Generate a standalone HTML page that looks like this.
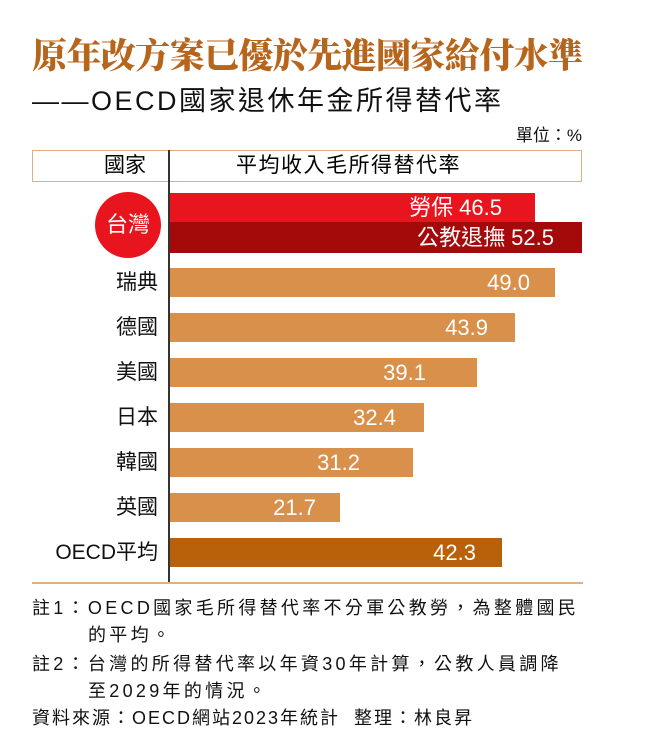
<!DOCTYPE html><html><head><meta charset="utf-8"><style>
body{margin:0;width:656px;height:755px;background:#fff;position:relative;font-family:"Liberation Sans","Noto Sans CJK TC",sans-serif;overflow:hidden}
.a{position:absolute;white-space:nowrap}
.bar{position:absolute;left:170px;height:29px}
.v{position:absolute;color:#fff;font-size:22px;line-height:29px;text-align:right}
.lab{position:absolute;right:498px;font-size:21px;color:#111;line-height:29px}
.n{font-size:18px;color:#111;letter-spacing:3.3px}
</style></head><body>
<div class="a" style="left:32px;top:30px;font-family:'Noto Serif CJK SC',serif;font-weight:900;font-size:35px;color:#b8651c;letter-spacing:-0.6px;line-height:48px">原年改方案已優於先進國家給付水準</div>
<div class="a" style="left:32px;top:84px;font-size:27px;color:#111;line-height:34px;letter-spacing:2.5px">——OECD國家退休年金所得替代率</div>
<div class="a" style="right:74px;top:121px;font-size:17px;color:#111">單位：%</div>
<div class="a" style="left:32px;top:150px;width:548px;height:30px;border:1.5px solid #e0b080"></div>
<div class="a" style="left:104px;top:151px;font-size:21px;line-height:30px">國家</div>
<div class="a" style="left:236px;top:151px;font-size:21px;line-height:30px;letter-spacing:1.5px">平均收入毛所得替代率</div>
<div class="a" style="left:168px;top:150px;width:1.5px;height:433px;background:#333"></div>
<div class="a" style="left:32px;top:582px;width:551px;height:2px;background:#e0b080"></div>
<div class="a" style="left:95px;top:192px;width:66px;height:66px;border-radius:50%;background:#e8141e;color:#fff;font-size:22px;line-height:66px;text-align:center">台灣</div>
<div class="bar" style="top:193px;width:365px;background:#e8141e"></div>
<div class="v" style="left:170px;width:332px;top:193px">勞保 46.5</div>
<div class="bar" style="top:222px;width:412px;height:31px;background:#a50a0a"></div>
<div class="v" style="left:170px;width:384px;top:223px">公教退撫 52.5</div>
<div class="lab" style="top:268px">瑞典</div><div class="bar" style="top:268px;width:385px;background:#d9904a"></div><div class="v" style="left:170px;width:360px;top:268px">49.0</div>
<div class="lab" style="top:313px">德國</div><div class="bar" style="top:313px;width:345px;background:#d9904a"></div><div class="v" style="left:170px;width:318px;top:313px">43.9</div>
<div class="lab" style="top:358px">美國</div><div class="bar" style="top:358px;width:307px;background:#d9904a"></div><div class="v" style="left:170px;width:256px;top:358px">39.1</div>
<div class="lab" style="top:403px">日本</div><div class="bar" style="top:403px;width:254px;background:#d9904a"></div><div class="v" style="left:170px;width:226px;top:403px">32.4</div>
<div class="lab" style="top:448px">韓國</div><div class="bar" style="top:448px;width:243px;background:#d9904a"></div><div class="v" style="left:170px;width:190px;top:448px">31.2</div>
<div class="lab" style="top:493px">英國</div><div class="bar" style="top:493px;width:170px;background:#d9904a"></div><div class="v" style="left:170px;width:146px;top:493px">21.7</div>
<div class="lab" style="top:538px">OECD平均</div><div class="bar" style="top:538px;width:332px;background:#b8600a"></div><div class="v" style="left:170px;width:306px;top:538px">42.3</div>
<div class="a n" style="left:32px;top:594px">註1：OECD國家毛所得替代率不分軍公教勞，為整體國民</div>
<div class="a n" style="left:88px;top:621px">的平均。</div>
<div class="a n" style="left:32px;top:650px">註2：台灣的所得替代率以年資30年計算，公教人員調降</div>
<div class="a n" style="left:88px;top:677px">至2029年的情況。</div>
<div class="a n" style="left:32px;top:704px;letter-spacing:2px">資料來源：OECD網站2023年統計&nbsp; 整理：林良昇</div>
</body></html>
